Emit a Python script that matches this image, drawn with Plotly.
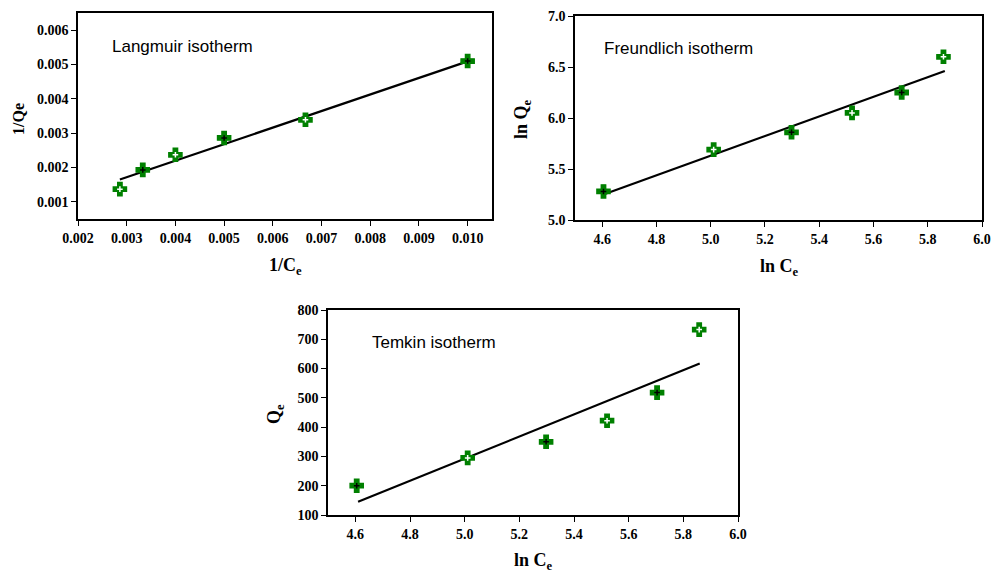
import plotly.graph_objects as go

# ---- data ----
inv_ce = [0.00286, 0.00333, 0.00400, 0.00500, 0.00667, 0.01000]
inv_qe = [0.00137, 0.00193, 0.00237, 0.00286, 0.00339, 0.00510]
ln_ce = [4.605, 5.011, 5.298, 5.521, 5.704, 5.858]
ln_qe = [5.28, 5.69, 5.86, 6.05, 6.25, 6.60]
qe = [200, 295, 350, 422, 518, 733]

lang_fit_x = [0.00286, 0.01000]
lang_fit_y = [0.00165, 0.00509]
freu_fit_x = [4.610, 5.863]
freu_fit_y = [5.255, 6.460]
temk_fit_x = [4.610, 5.860]
temk_fit_y = [145, 617]

# inner glyph of each marker alternates (dark plus / white plus)
inner_colors = ["white", "black", "white", "black", "white", "black"]
inner_colors_ln = ["black", "white", "black", "white", "black", "white"]

W, H = 992, 572
def xd(a, b):
    return [a / W, b / W]
def yd(top, bottom):
    return [1 - bottom / H, 1 - top / H]

fig = go.Figure()

GREEN = "#008000"

def add_panel(xs, ys, fx, fy, inner, xa, ya):
    fig.add_trace(go.Scatter(x=fx, y=fy, mode="lines",
                             line=dict(color="black", width=2.2),
                             xaxis=xa, yaxis=ya, showlegend=False, hoverinfo="skip"))
    fig.add_trace(go.Scatter(x=xs, y=ys, mode="markers",
                             marker=dict(symbol="cross", size=11, color=GREEN,
                                         line=dict(width=1.4, color=GREEN)),
                             xaxis=xa, yaxis=ya, showlegend=False))
    fig.add_trace(go.Scatter(x=xs, y=ys, mode="markers",
                             marker=dict(symbol="cross-thin", size=4,
                                         line=dict(width=1.5, color=inner)),
                             xaxis=xa, yaxis=ya, showlegend=False))

add_panel(inv_ce, inv_qe, lang_fit_x, lang_fit_y, inner_colors, "x", "y")
add_panel(ln_ce, ln_qe, freu_fit_x, freu_fit_y, inner_colors_ln, "x2", "y2")
add_panel(ln_ce, qe, temk_fit_x, temk_fit_y, inner_colors_ln, "x3", "y3")

tickfont = dict(family="Liberation Serif, Times New Roman, serif", size=14,
                color="black", weight="bold")
common = dict(showline=True, linecolor="black", linewidth=1.5, mirror=True,
              ticks="outside", ticklen=5, tickwidth=1.2, tickcolor="black",
              showgrid=False, zeroline=False, tickfont=tickfont, automargin=False)

fig.update_layout(
    width=W, height=H, margin=dict(l=0, r=0, t=0, b=0, pad=0, autoexpand=False),
    paper_bgcolor="white", plot_bgcolor="white",
    xaxis=dict(domain=xd(78, 492), range=[0.002, 0.0105], tick0=0.002, dtick=0.001,
               tickformat=".3f", anchor="y", **common),
    yaxis=dict(domain=yd(13, 219), range=[0.0005, 0.0065], tick0=0.001, dtick=0.001,
               tickformat=".3f", anchor="x", **common),
    xaxis2=dict(domain=xd(575, 982), range=[4.5, 6.0], tick0=4.6, dtick=0.2,
                tickformat=".1f", anchor="y2", **common),
    yaxis2=dict(domain=yd(16, 220), range=[5.0, 7.0], dtick=0.5,
                tickformat=".1f", anchor="x2", **common),
    xaxis3=dict(domain=xd(328, 738), range=[4.5, 6.0], tick0=4.6, dtick=0.2,
                tickformat=".1f", anchor="y3", **common),
    yaxis3=dict(domain=yd(310, 515), range=[100, 800], dtick=100,
                anchor="x3", **common),
)

title_font = dict(family="Liberation Serif, Times New Roman, serif", size=18,
                  color="black", weight="bold")
small_title_font = dict(family="Liberation Serif, Times New Roman, serif", size=16,
                        color="black", weight="bold")
label_font = dict(family="Liberation Sans, Arial, sans-serif", size=17, color="black")

def ann(text, x, y, font, angle=0, xanchor="center"):
    fig.add_annotation(text=text, x=x / W, y=1 - y / H, xref="paper", yref="paper",
                       showarrow=False, font=font, textangle=angle,
                       xanchor=xanchor, yanchor="middle")

# axis titles
ann("1/Qe", 19, 119, small_title_font, angle=-90)
ann("1/C<sub>e</sub>", 285, 266, title_font)
ann("ln Q<sub>e</sub>", 523, 119, title_font, angle=-90)
ann("ln C<sub>e</sub>", 779, 267, title_font)
ann("Q<sub>e</sub>", 275, 414, title_font, angle=-90)
ann("ln C<sub>e</sub>", 533, 561, title_font)

# panel labels
ann("Langmuir isotherm", 110, 46, label_font, xanchor="left")
ann("Freundlich isotherm", 602, 48, label_font, xanchor="left")
ann("Temkin isotherm", 370, 342, label_font, xanchor="left")

fig.write_html("out.html", config={"displayModeBar": False},
               post_script="document.body.style.margin='0';document.body.style.overflow='hidden';")
